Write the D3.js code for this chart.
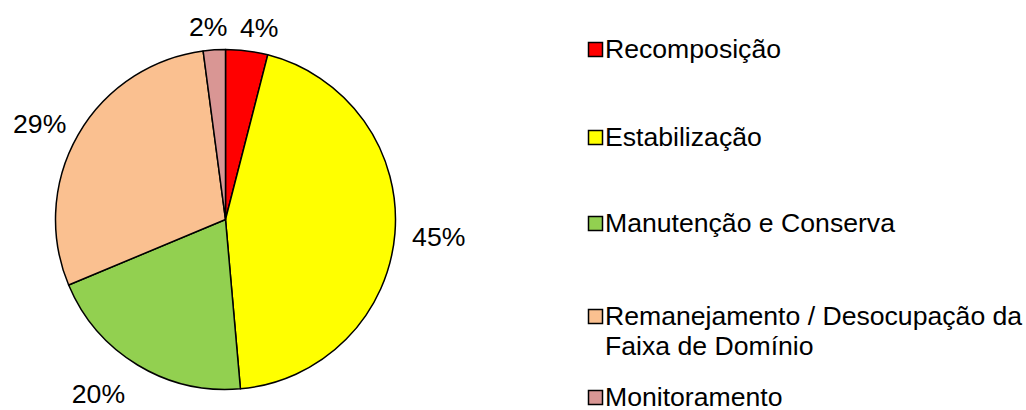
<!DOCTYPE html>
<html>
<head>
<meta charset="utf-8">
<script src="https://cdn.jsdelivr.net/npm/d3@7"></script>
<style>
  body { margin: 0; background: #fff; }
  text { font-family: "Liberation Sans", Arial, sans-serif; fill: #000; }
</style>
</head>
<body>
<div id="chart"></div>
<script>
// Data
const categories = ["Recomposição", "Estabilização", "Manutenção e Conserva", "Remanejamento / Desocupação da Faixa de Domínio", "Monitoramento"];
const values = [4.0, 44.6, 20.1, 29.2, 2.1];
const labels = ["4%", "45%", "20%", "29%", "2%"];
const legendLines = [["Recomposição"], ["Estabilização"], ["Manutenção e Conserva"], ["Remanejamento / Desocupação da", "Faixa de Domínio"], ["Monitoramento"]];
const colors = ["#FF0000", "#FFFF00", "#92D050", "#FAC090", "#D99694"];

// Dimensions
const width = 1026, height = 410;
const cx = 225.5, cy = 219.5, radius = 170;
const fontSize = 25, stretch = 1.065;

const svg = d3.select("#chart")
    .append("svg")
    .attr("width", width)
    .attr("height", height);

const colorScale = d3.scaleOrdinal().domain(categories).range(colors);

const pie = d3.pie().sort(null).value(d => d.value);
const arc = d3.arc().innerRadius(0).outerRadius(radius);

const data = categories.map((c, i) => ({ name: c, value: values[i], label: labels[i] }));
const arcs = pie(data);

const g = svg.append("g").attr("transform", `translate(${cx},${cy})`);

g.selectAll("path")
    .data(arcs)
    .join("path")
    .attr("d", arc)
    .attr("fill", d => colorScale(d.data.name))
    .attr("stroke", "#000")
    .attr("stroke-width", 1.5)
    .attr("stroke-linejoin", "round");

// Percent labels, placed outside the slice end
const labelGap = 16;
const labelNudge = [[10, 2], [6, 3], [-25, 9], [-8, 0], [-5, 2]];
g.selectAll("text.pct")
    .data(arcs)
    .join("text")
    .attr("class", "pct")
    .attr("font-size", fontSize)
    .attr("text-anchor", "middle")
    .attr("dominant-baseline", "central")
    .attr("transform", (d, i) => {
        const a = (d.startAngle + d.endAngle) / 2;
        const w = 44, h = 18;
        const x = Math.sin(a) * (radius + labelGap + w / 2 * Math.abs(Math.sin(a))) + labelNudge[i][0];
        const y = -Math.cos(a) * (radius + labelGap + h / 2 * Math.abs(Math.cos(a))) + labelNudge[i][1];
        return `translate(${x},${y}) scale(${stretch},1)`;
    })
    .text(d => d.data.label);

// Legend
const legendX = 588, box = 14;
const legendY = [58, 146, 232, 325, 406];
const lineH = 30;

const legend = svg.append("g");
const items = legend.selectAll("g")
    .data(data)
    .join("g")
    .attr("transform", (d, i) => `translate(${legendX},${legendY[i]})`);

items.append("rect")
    .attr("x", 0.5)
    .attr("y", -15.5)
    .attr("width", box)
    .attr("height", box)
    .attr("fill", d => colorScale(d.name))
    .attr("stroke", "#000")
    .attr("stroke-width", 1.5);

items.each(function(d, i) {
    legendLines[i].forEach((line, j) => {
        d3.select(this).append("text")
            .attr("font-size", fontSize)
            .attr("transform", `translate(17,${j * lineH}) scale(${stretch},1)`)
            .text(line);
    });
});
</script>
</body>
</html>
